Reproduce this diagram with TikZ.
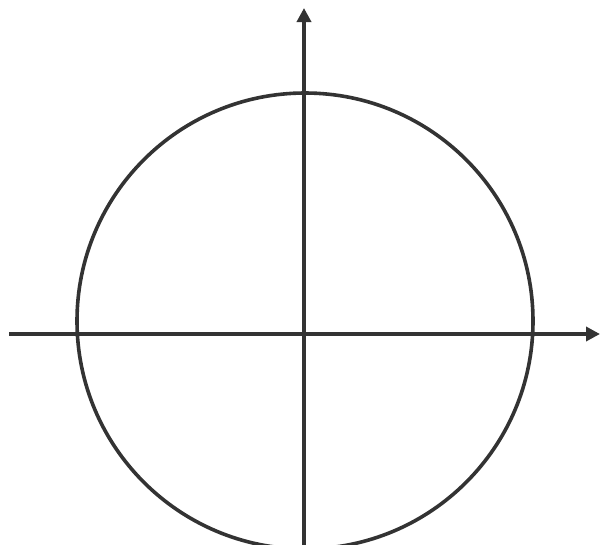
\documentclass[tikz,border=0pt]{standalone}
\usetikzlibrary{arrows.meta}
\begin{document}
\begin{tikzpicture}[x=1pt,y=-1pt,
  axis/.style={line width=3.6pt,draw=black!80,-{Triangle[length=14pt,width=14pt]}},
  curve/.style={line width=3.6pt,draw=black!80}]
\useasboundingbox (0,0) rectangle (600,544);
\coordinate (xs) at (9,334);
\coordinate (xe) at (600,334);
\coordinate (ys) at (304,560);
\coordinate (ye) at (304,8);
\coordinate (o) at (305,321);
\draw[curve] (o) circle[radius=228];
\draw[axis] (xs) -- (xe);
\draw[axis] (ys) -- (ye);
\end{tikzpicture}
\end{document}
